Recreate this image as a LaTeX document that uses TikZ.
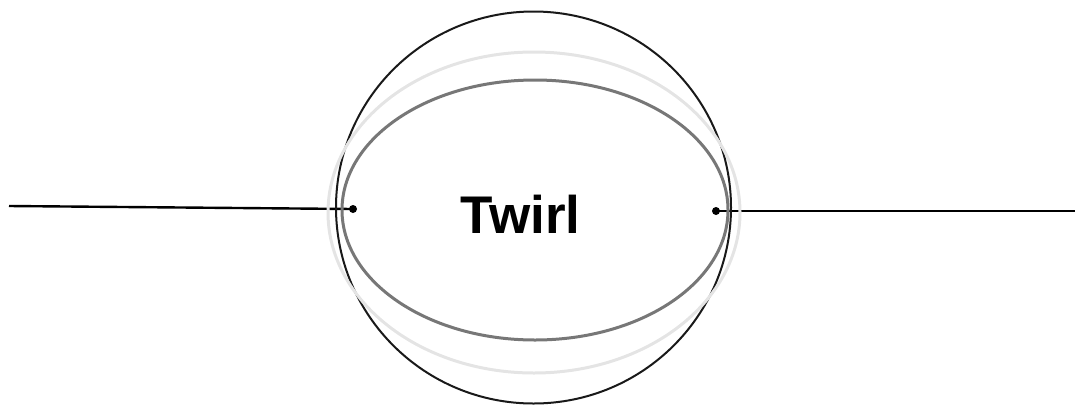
\documentclass[tikz,border=0pt]{standalone}
\usepackage{fontspec}
\setmainfont{Liberation Sans}
\definecolor{ringdark}{HTML}{777777}
\definecolor{ringlight}{HTML}{E4E4E4}
\tikzset{
  wire/.style={line width=2.4pt, black},
  dotnode/.style={circle, fill=black, inner sep=0pt, minimum size=8pt},
  outerring/.style={line width=2pt, black!90},
  midring/.style={line width=3pt, ringlight},
  innerring/.style={line width=3pt, ringdark},
}
\begin{document}
\begin{tikzpicture}[x=1pt,y=-1pt]
\useasboundingbox (0,0) rectangle (1075,405);
% wires and terminals
\coordinate (lend) at (9,206);
\coordinate (rend) at (1075,211);
\node[dotnode] (ldot) at (353,209) {};
\node[dotnode] (rdot) at (716,211) {};
\draw[wire] (lend) -- (ldot.center);
\draw[wire] (rdot.center) -- (rend);
% rings
\draw[outerring] (533.5,207.5) ellipse [x radius=197.5, y radius=196];
\draw[midring] (534,212.5) ellipse [x radius=206, y radius=160.5];
\draw[innerring] (535,210) ellipse [x radius=193, y radius=130];
\node[font=\fontsize{53}{60}\selectfont\bfseries, inner sep=0pt] (label) at (520.5,214) {Twirl};
\end{tikzpicture}
\end{document}
